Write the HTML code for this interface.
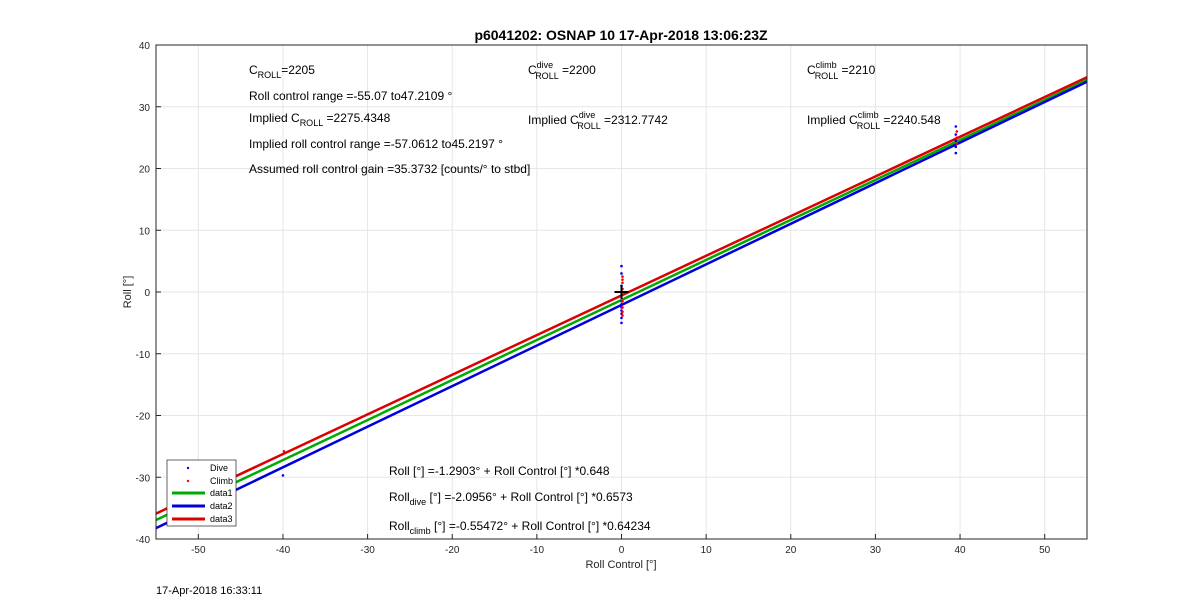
<!DOCTYPE html>
<html><head><meta charset="utf-8"><style>
body{margin:0;background:#fff;}
svg text{font-family:"Liberation Sans",sans-serif;}
</style></head><body>
<svg width="1200" height="606" xmlns="http://www.w3.org/2000/svg">
<rect width="1200" height="606" fill="#fff"/>
<g id="grid"></g>
<g id="lines"></g>
<g id="pts"></g>
<rect x="156" y="45" width="931" height="494" fill="none" stroke="#262626" stroke-width="1"/>
<g id="ticks" font-size="10" fill="#262626"></g>
<text x="621" y="40" text-anchor="middle" font-size="14" font-weight="bold" fill="#000">p6041202: OSNAP 10 17-Apr-2018 13:06:23Z</text>
<text x="621" y="568" text-anchor="middle" font-size="11" fill="#262626">Roll Control [°]</text>
<text transform="translate(131,292) rotate(-90)" text-anchor="middle" font-size="11" fill="#262626">Roll [°]</text>
<text x="156" y="594" font-size="11" fill="#000">17-Apr-2018 16:33:11</text>
<g font-size="12" fill="#000">
<text x="249" y="74">C<tspan font-size="9" dy="4">ROLL</tspan><tspan dy="-4">=2205</tspan></text>
<text x="249" y="100">Roll control range =-55.07 to47.2109 °</text>
<text x="249" y="122">Implied C<tspan font-size="9" dy="4">ROLL</tspan><tspan dy="-4"> =2275.4348</tspan></text>
<text x="249" y="148">Implied roll control range =-57.0612 to45.2197 °</text>
<text x="249" y="173">Assumed roll control gain =35.3732 [counts/° to stbd]</text>
<text x="528" y="74">C<tspan font-size="9" dy="-6">dive</tspan><tspan font-size="9" dx="-18" dy="11">ROLL</tspan><tspan dy="-5"> =2200</tspan></text>
<text x="528" y="124">Implied C<tspan font-size="9" dy="-6">dive</tspan><tspan font-size="9" dx="-18" dy="11">ROLL</tspan><tspan dy="-5"> =2312.7742</tspan></text>
<text x="807" y="74">C<tspan font-size="9" dy="-6">climb</tspan><tspan font-size="9" dx="-22" dy="11">ROLL</tspan><tspan dy="-5"> =2210</tspan></text>
<text x="807" y="124">Implied C<tspan font-size="9" dy="-6">climb</tspan><tspan font-size="9" dx="-22" dy="11">ROLL</tspan><tspan dy="-5"> =2240.548</tspan></text>
<text x="389" y="475">Roll [°] =-1.2903° + Roll Control [°] *0.648</text>
<text x="389" y="501">Roll<tspan font-size="9" dy="4">dive</tspan><tspan dy="-4"> [°] =-2.0956° + Roll Control [°] *0.6573</tspan></text>
<text x="389" y="530">Roll<tspan font-size="9" dy="4">climb</tspan><tspan dy="-4"> [°] =-0.55472° + Roll Control [°] *0.64234</tspan></text>
</g>
<g font-size="9" fill="#000">
<rect x="167" y="460" width="69" height="66" fill="#fff" stroke="#262626" stroke-width="0.7"/>
<circle cx="188" cy="468" r="1.2" fill="#0000ff"/><text x="210" y="471">Dive</text>
<circle cx="188" cy="481" r="1.2" fill="#ff0000"/><text x="210" y="484">Climb</text>
<line x1="172" y1="493" x2="205" y2="493" stroke="#00aa00" stroke-width="3"/><text x="210" y="496">data1</text>
<line x1="172" y1="506" x2="205" y2="506" stroke="#0000dd" stroke-width="3"/><text x="210" y="509">data2</text>
<line x1="172" y1="519" x2="205" y2="519" stroke="#dd0000" stroke-width="3"/><text x="210" y="522">data3</text>
</g>
</svg>
<script>
const xTicks=[-50,-40,-30,-20,-10,0,10,20,30,40,50];
const yTicks=[-40,-30,-20,-10,0,10,20,30,40];
const fitIntercepts=[-1.2903,-2.0956,-0.55472];
const fitSlopes=[0.648,0.6573,0.64234];
const fitColors=['#00aa00','#0000dd','#dd0000'];
const diveX=[-40,0,0,0,0,0,0,0,0,0,0,0,39.5,39.5,39.5,39.5,39.5];
const diveY=[-29.7,4.2,3.0,-1.5,-2.5,-3.5,-4.2,-5.0,-2.0,-0.5,1.0,-3.0,22.5,23.5,24.5,25.5,26.8];
const climbX=[-40,0,0,0,0,0,0,0,0,0,39.5,39.5,39.5];
const climbY=[-25.8,2.5,1.5,0.5,-0.5,-1.5,-2.5,-3.2,-3.8,2.0,24.0,25.0,26.0];
const X0=156,X1=1087,Y0=45,Y1=539;
const sx=v=>X0+(v+55)/110*(X1-X0);
const sy=v=>Y1-(v+40)/80*(Y1-Y0);
const NS='http://www.w3.org/2000/svg';
function mk(t,a,p){const e=document.createElementNS(NS,t);for(const k in a)e.setAttribute(k,a[k]);p.appendChild(e);return e;}
const grid=document.getElementById('grid'),ticks=document.getElementById('ticks');
xTicks.forEach(v=>{const x=sx(v);
 const g=mk('line',{x1:x,x2:x,y1:Y0,y2:Y1,stroke:'#e6e6e6'},grid);
 
 mk('line',{x1:x,x2:x,y1:Y1,y2:Y1-5,stroke:'#262626'},ticks);
 const t=mk('text',{x:x,y:Y1+14,'text-anchor':'middle'},ticks);t.textContent=v;
 });
yTicks.forEach(v=>{const y=sy(v);
 const g=mk('line',{x1:X0,x2:X1,y1:y,y2:y,stroke:'#e6e6e6'},grid);
 
 mk('line',{x1:X0,x2:X0+5,y1:y,y2:y,stroke:'#262626'},ticks);
 const t=mk('text',{x:X0-6,y:y+4,'text-anchor':'end'},ticks);t.textContent=v;
 });
const lines=document.getElementById('lines');
fitIntercepts.forEach((b,i)=>{const m=fitSlopes[i];
 const l=mk('line',{x1:sx(-55),y1:sy(b+m*-55),x2:sx(55),y2:sy(b+m*55),stroke:fitColors[i],'stroke-width':2.5},lines);
 });
const pts=document.getElementById('pts');
diveX.forEach((x,i)=>{const c=mk('circle',{cx:sx(x),cy:sy(diveY[i]),r:1.3,fill:'#0000ff'},pts);
 });
climbX.forEach((x,i)=>{const c=mk('circle',{cx:sx(x)+1,cy:sy(climbY[i]),r:1.3,fill:'#ff0000'},pts);
 });
const cx=sx(0),cy=sy(0);
const p1=mk('line',{x1:cx-7,x2:cx+7,y1:cy,y2:cy,stroke:'#000','stroke-width':2},pts);

const p2=mk('line',{x1:cx,x2:cx,y1:cy-7,y2:cy+7,stroke:'#000','stroke-width':2},pts);

</script>
</body></html>
